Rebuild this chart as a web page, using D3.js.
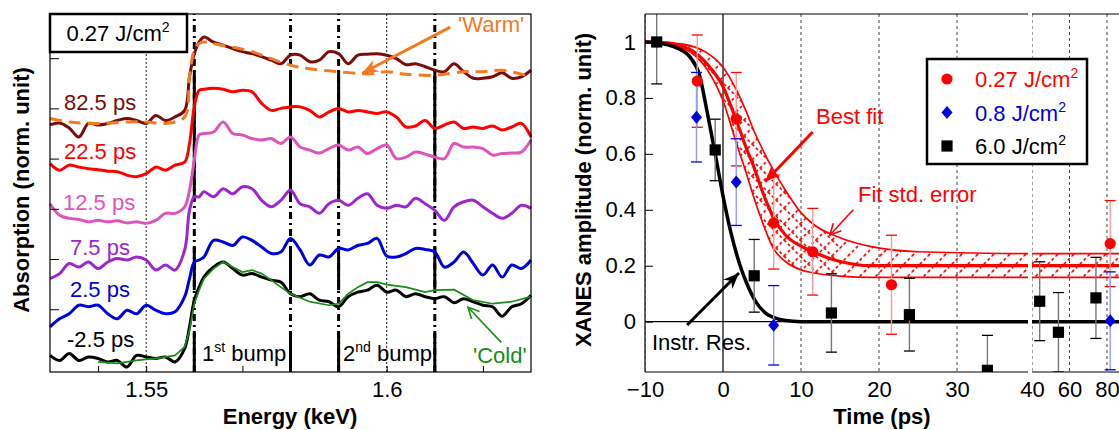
<!DOCTYPE html>
<html>
<head>
<meta charset="utf-8">
<script src="https://cdn.jsdelivr.net/npm/d3@7"></script>
<style>
  body { margin: 0; background: #fff; }
  text { font-family: "Liberation Sans", Arial, Helvetica, sans-serif; }
</style>
</head>
<body>
<div class="chart"></div>
<script>
//----Data: left panel (XANES spectra)----
const energy = [1.530,1.532,1.534,1.536,1.538,1.540,1.542,1.544,1.546,1.548,1.550,1.552,1.554,1.556,1.558,
  1.559,1.560,1.561,
  1.562,1.564,1.566,1.568,1.570,1.572,1.574,1.576,1.578,1.580,
  1.582,1.584,1.586,1.588,1.590,1.592,1.594,1.596,1.598,1.600,1.602,1.604,1.606,1.608,1.610,1.612,1.614,1.616,1.618,1.620,1.622,1.624,1.626,1.628,1.630];

const ps82 = [3.67,3.71,3.61,3.43,3.70,3.67,3.70,3.76,3.80,3.76,3.70,3.86,3.76,3.83,3.96,
  4.63,5.09,5.32,
  5.42,5.32,5.26,5.19,5.13,5.09,5.03,4.96,4.89,5.06,
  5.06,4.93,4.96,5.13,5.09,4.89,5.06,5.08,5.09,5.06,4.99,4.87,4.89,4.83,4.76,4.73,4.89,4.73,4.60,4.60,4.63,4.71,4.60,4.63,4.76];
const ps22 = [2.90,2.77,2.87,2.83,2.80,2.78,2.75,2.74,2.67,2.64,2.70,2.83,2.77,2.87,2.93,
  3.30,4.03,4.36,
  4.38,4.40,4.38,4.33,4.36,4.33,4.10,3.96,4.00,4.03,
  4.03,3.96,3.83,3.93,4.00,3.93,3.96,3.93,3.90,3.93,3.83,3.63,3.65,3.76,3.60,3.67,3.73,3.60,3.63,3.60,3.65,3.57,3.63,3.70,3.43];
const ps12 = [2.10,1.87,1.81,1.79,1.74,1.77,1.74,1.76,1.72,1.74,1.71,1.77,1.91,1.91,2.04,
  2.37,2.97,3.47,
  3.50,3.53,3.73,3.50,3.47,3.40,3.37,3.40,3.30,3.43,
  3.23,3.17,3.11,3.20,3.27,3.17,3.23,3.10,3.20,3.27,3.00,3.03,3.13,3.09,3.03,3.00,3.30,3.23,3.23,3.20,3.07,3.10,3.11,3.13,3.37];
const ps7 = [0.61,0.71,0.91,0.84,0.94,0.81,0.94,1.01,0.98,1.04,0.98,0.78,0.88,0.78,1.18,
  1.97,2.24,2.24,
  2.34,2.24,2.40,2.30,2.44,2.40,2.17,2.04,2.17,2.37,
  2.10,2.04,1.91,2.10,2.17,2.07,2.21,2.30,2.07,2.01,2.07,2.04,2.21,2.10,1.97,1.77,2.04,2.14,2.17,2.04,1.91,1.81,1.91,2.07,2.01];
const ps2 = [-0.35,-0.19,-0.09,0.08,0.05,0.08,-0.09,-0.19,-0.02,-0.09,0.08,-0.02,-0.09,-0.05,0.25,
  0.61,0.94,0.98,
  1.04,1.37,1.34,1.27,1.44,1.37,1.24,1.11,1.14,1.41,
  1.18,0.88,1.08,1.04,1.21,1.18,1.27,1.31,1.41,1.06,1.04,1.11,1.21,1.19,1.14,0.84,0.94,1.14,0.91,0.68,0.88,0.64,0.88,0.81,0.98];
const psm2 = [-0.92,-1.02,-0.88,-1.02,-0.95,-0.98,-1.05,-1.02,-1.15,-0.92,-0.95,-0.98,-0.95,-1.05,-0.78,
  -0.35,0.18,0.44,
  0.64,0.84,0.94,0.81,0.68,0.71,0.64,0.58,0.54,0.31,
  0.25,0.31,0.18,0.15,0.05,0.25,0.34,0.38,0.48,0.34,0.38,0.25,0.31,0.25,0.21,0.25,0.13,0.21,0.15,0.08,0.05,-0.14,0.05,0.11,0.28];

const energyWarm = [1.530,1.534,1.540,1.546,1.550,1.554,1.558,1.559,1.560,1.561,1.562,1.564,1.568,1.572,1.576,1.580,1.584,1.590,1.596,1.600,1.604,1.610,1.616,1.620,1.624,1.630];
const warm = [3.80,3.73,3.70,3.73,3.73,3.70,3.83,4.63,5.16,5.29,5.32,5.29,5.22,5.13,4.99,4.86,4.79,4.73,4.69,4.73,4.68,4.66,4.73,4.73,4.76,4.63];

const energyCold = [1.540,1.544,1.548,1.552,1.556,1.558,1.559,1.560,1.561,1.562,1.564,1.566,1.568,1.570,1.572,1.574,1.576,1.578,1.580,1.584,1.588,1.590,1.592,1.594,1.596,1.598,1.600,1.604,1.608,1.610,1.614,1.618,1.622,1.626,1.630];
const cold = [-1.05,-1.08,-1.02,-0.98,-0.92,-0.75,-0.42,0.11,0.38,0.61,0.81,0.94,0.84,0.74,0.78,0.71,0.58,0.44,0.31,0.15,0.08,0.11,0.31,0.44,0.54,0.54,0.49,0.44,0.34,0.38,0.39,0.18,0.11,0.15,0.25];

const spectra = [
  {label: "82.5 ps", color: "#7b0c0c", values: ps82},
  {label: "22.5 ps", color: "#ff0000", values: ps22},
  {label: "12.5 ps", color: "#dd55bb", values: ps12},
  {label: "7.5 ps",  color: "#9b27cf", values: ps7},
  {label: "2.5 ps",  color: "#0000dd", values: ps2},
  {label: "-2.5 ps", color: "#000000", values: psm2}
];

const markE = [1.56, 1.58, 1.59, 1.61];
const solidSpans = [[2.23, 4.76], [0.38, 1.24], [-1.25, -0.48]];
const gridE = [1.55, 1.6];
const minorE = [1.54, 1.55, 1.56, 1.57, 1.58, 1.59, 1.6, 1.61, 1.62];
const tickA = [0, 1, 2, 3, 4, 5];

//----Data: right panel (XANES amplitude vs time)----
const tRed = [-3.3, 1.7, 6.5, 11.5, 21.6, 81.7];
const vRed = [0.86, 0.724, 0.353, 0.25, 0.132, 0.279];
const eRed = [0.165, 0.167, 0.165, 0.155, 0.177, 0.154];

const tBlue = [-3.4, 1.7, 6.5, 81.7];
const vBlue = [0.731, 0.499, -0.013, 0.003];
const eBlue = [0.16, 0.155, 0.142, 0.175];

const tBlack = [-8.5, -1.0, 4.0, 13.9, 23.9, 33.9, 44.1, 54.1, 74.1];
const vBlack = [1.0, 0.614, 0.164, 0.031, 0.025, -0.174, 0.073, -0.038, 0.085];
const eBlack = [0.15, 0.11, 0.13, 0.14, 0.13, 0.125, 0.141, 0.142, 0.145];

const tFit   = [-10, -8, -6, -4, -2, 0, 1.7, 3, 4, 5, 6.5, 8, 10, 11.5, 15, 19, 25, 40];
const vBest  = [1, 0.998, 0.99, 0.97, 0.92, 0.84, 0.72, 0.62, 0.55, 0.47, 0.37, 0.31, 0.27, 0.25, 0.215, 0.2, 0.2, 0.2];
const vUpper = [1, 1, 0.995, 0.985, 0.96, 0.91, 0.83, 0.75, 0.68, 0.62, 0.54, 0.47, 0.39, 0.35, 0.30, 0.268, 0.25, 0.243];
const vLower = [1, 0.995, 0.985, 0.96, 0.9, 0.79, 0.64, 0.53, 0.44, 0.36, 0.26, 0.215, 0.185, 0.175, 0.163, 0.158, 0.158, 0.158];
const tFitFar = [40, 90];
const vBestFar = [0.2, 0.2], vUpperFar = [0.243, 0.243], vLowerFar = [0.158, 0.158];

const tIR = [-10, -8, -6, -4.2, -3, -2.1, -1, 0, 1, 2.2, 3, 4.3, 5.5, 6.4, 8, 10, 40];
const vIR = [1, 0.995, 0.98, 0.945, 0.88, 0.76, 0.6, 0.45, 0.32, 0.2, 0.14, 0.067, 0.03, 0.016, 0.004, 0, 0];
const tIRFar = [40, 90], vIRFar = [0, 0];

const tickV = [0, 0.2, 0.4, 0.6, 0.8, 1];
const tickT1 = [-10, 0, 10, 20, 30];
const tickT2 = [40, 60, 80];
const gridT1 = [-10, 10, 20, 30];
const gridT2 = [40, 60, 80];

const legend = [
  {label: "0.27 J/cm", color: "#ff0000", shape: "circle"},
  {label: "0.8 J/cm",  color: "#0000e0", shape: "diamond"},
  {label: "6.0 J/cm",  color: "#000000", shape: "square"}
];

const FS = 22;

//----Chart Initialization----
const svg = d3.select(".chart").append("svg")
  .attr("width", 1119)
  .attr("height", 430);

const defs = svg.append("defs");

function filledHead(id, color) {
  defs.append("marker").attr("id", id)
    .attr("viewBox", "-17 -8 18 16").attr("refX", 0).attr("refY", 0)
    .attr("markerWidth", 18).attr("markerHeight", 16)
    .attr("markerUnits", "userSpaceOnUse").attr("orient", "auto")
    .append("path").attr("d", "M0,0 L-16,-6.5 L-11,0 L-16,6.5 Z").attr("fill", color);
}
function openHead(id, color) {
  defs.append("marker").attr("id", id)
    .attr("viewBox", "-13 -7 14 14").attr("refX", 0).attr("refY", 0)
    .attr("markerWidth", 14).attr("markerHeight", 14)
    .attr("markerUnits", "userSpaceOnUse").attr("orient", "auto")
    .append("path").attr("d", "M-11,-5.5 L0,0 L-11,5.5")
    .attr("fill", "none").attr("stroke", color).attr("stroke-width", 1.6);
}
filledHead("hOrange", "#f47a1f");
filledHead("hRed", "#ff0000");
filledHead("hBlack", "#000");
openHead("oGreen", "#1a8c1a");
openHead("oRed", "#ff0000");

defs.append("pattern").attr("id", "hatchA")
  .attr("patternUnits", "userSpaceOnUse").attr("width", 16).attr("height", 16)
  .append("path").attr("d", "M-4,4 L4,-4 M0,16 L16,0 M12,20 L20,12")
  .attr("stroke", "#ff0000").attr("stroke-width", 1.6).attr("stroke-dasharray", "3,2.5");
defs.append("pattern").attr("id", "hatchB")
  .attr("patternUnits", "userSpaceOnUse").attr("width", 16).attr("height", 16)
  .append("path").attr("d", "M0,0 L16,16 M-4,12 L4,20 M12,-4 L20,4")
  .attr("stroke", "#ff0000").attr("stroke-width", 1.6).attr("stroke-dasharray", "3,2.5");

function sup(sel, main, s, after) {
  sel.append("tspan").text(main);
  sel.append("tspan").attr("dy", -9).attr("font-size", 14).text(s);
  if (after) sel.append("tspan").attr("dy", 9).text(after);
}

// ----Left panel----
const xE = d3.scaleLinear().domain([1.53, 1.63]).range([50, 531]);
const yA = d3.scaleLinear().domain([-1.25, 5.88]).range([372, 14]);

const left = svg.append("g");

left.selectAll(".gridE").data(gridE).enter().append("line")
  .attr("x1", d => xE(d)).attr("x2", d => xE(d))
  .attr("y1", yA(-1.25)).attr("y2", yA(5.88))
  .attr("stroke", "#000").attr("stroke-width", 0.9).attr("stroke-dasharray", "2,2");

left.selectAll(".markE").data(markE).enter().append("line")
  .attr("x1", d => xE(d)).attr("x2", d => xE(d))
  .attr("y1", yA(-1.25)).attr("y2", yA(5.88))
  .attr("stroke", "#000").attr("stroke-width", 3).attr("stroke-dasharray", "7,4,2,4");

markE.forEach(e => {
  left.selectAll(null).data(solidSpans).enter().append("line")
    .attr("x1", xE(e)).attr("x2", xE(e))
    .attr("y1", d => yA(d[0])).attr("y2", d => yA(d[1]))
    .attr("stroke", "#000").attr("stroke-width", 3);
});

const lineE = d3.line()
  .x((d, i) => xE(energy[i]))
  .y(d => yA(d))
  .curve(d3.curveCatmullRom.alpha(0.5));

left.selectAll(".spec").data(spectra).enter().append("path")
  .attr("d", d => lineE(d.values))
  .attr("fill", "none")
  .attr("stroke", d => d.color)
  .attr("stroke-width", 3)
  .attr("stroke-linejoin", "round");

left.append("path")
  .attr("d", d3.line().x((d, i) => xE(energyWarm[i])).y(d => yA(d)).curve(d3.curveCatmullRom)(warm))
  .attr("fill", "none").attr("stroke", "#f47a1f").attr("stroke-width", 3)
  .attr("stroke-dasharray", "12,7");

left.append("path")
  .attr("d", d3.line().x((d, i) => xE(energyCold[i])).y(d => yA(d))(cold))
  .attr("fill", "none").attr("stroke", "#1a8c1a").attr("stroke-width", 1.7);

left.selectAll(".lab").data(spectra).enter().append("text")
  .attr("x", (d, i) => [64, 64, 63, 70, 70, 67][i])
  .attr("y", (d, i) => [110, 159, 210, 255, 297, 347][i])
  .attr("fill", d => d.color)
  .attr("font-size", FS)
  .text(d => d.label);

// frame
left.append("rect")
  .attr("x", 50).attr("y", 14).attr("width", 481).attr("height", 358)
  .attr("fill", "none").attr("stroke", "#000").attr("stroke-width", 1.2);

// axes
const xAxisE = d3.axisBottom(xE)
  .tickValues(minorE)
  .tickSize(-6)
  .tickPadding(9)
  .tickFormat(d => gridE.some(g => Math.abs(g - d) < 1e-6) ? d3.format("")(d) : "");
left.append("g").attr("transform", "translate(0,372)").call(xAxisE)
  .call(g => g.select(".domain").remove())
  .call(g => g.selectAll("text").attr("font-size", FS).attr("font-family", "Liberation Sans, Arial, sans-serif").attr("fill", "#000"));

const yAxisA = d3.axisLeft(yA).tickValues(tickA).tickSize(-9).tickFormat("");
left.append("g").attr("transform", "translate(50,0)").call(yAxisA)
  .call(g => g.select(".domain").remove());

left.append("text")
  .attr("x", 290).attr("y", 424)
  .attr("text-anchor", "middle").attr("font-size", FS).attr("font-weight", "bold")
  .text("Energy (keV)");
left.append("text")
  .attr("transform", "translate(29,190) rotate(-90)")
  .attr("text-anchor", "middle").attr("font-size", FS).attr("font-weight", "bold")
  .text("Absorption (norm. unit)");

// fluence box
left.append("rect")
  .attr("x", 50).attr("y", 14).attr("width", 137).attr("height", 38)
  .attr("fill", "#fff").attr("stroke", "#000").attr("stroke-width", 2.5);
sup(left.append("text").attr("x", 118).attr("y", 41)
  .attr("text-anchor", "middle").attr("font-size", FS), "0.27 J/cm", "2");

// bump labels
sup(left.append("text").attr("x", 202).attr("y", 361).attr("font-size", FS), "1", "st", " bump");
sup(left.append("text").attr("x", 343).attr("y", 361).attr("font-size", FS), "2", "nd", " bump");

// warm / cold annotations
left.append("text").attr("x", 458).attr("y", 32).attr("font-size", FS)
  .attr("fill", "#f47a1f").text("'Warm'");
left.append("line")
  .attr("x1", xE(1.6132)).attr("y1", yA(5.62)).attr("x2", xE(1.5949)).attr("y2", yA(4.70))
  .attr("stroke", "#f47a1f").attr("stroke-width", 3).attr("marker-end", "url(#hOrange)");
left.append("text").attr("x", 473).attr("y", 363).attr("font-size", FS)
  .attr("fill", "#1a8c1a").text("'Cold'");
left.append("line")
  .attr("x1", xE(1.6238)).attr("y1", yA(-0.66)).attr("x2", xE(1.6169)).attr("y2", yA(0.04))
  .attr("stroke", "#1a8c1a").attr("stroke-width", 1.6).attr("marker-end", "url(#oGreen)");

// ----Right panel----
const xT1 = d3.scaleLinear().domain([-10, 40]).range([645, 1035]);
const xT2 = d3.scaleLinear().domain([40, 80]).range([1032, 1107]);
const xT = t => t > 40 ? xT2(t) : xT1(t);
const yX = d3.scaleLinear().domain([-0.18, 1.1]).range([372, 14]);

defs.append("clipPath").attr("id", "clip1").append("rect")
  .attr("x", 645).attr("y", 14).attr("width", 383).attr("height", 358);
defs.append("clipPath").attr("id", "clip2").append("rect")
  .attr("x", 1032).attr("y", 14).attr("width", 100).attr("height", 358);

const right = svg.append("g");
const seg1 = right.append("g").attr("clip-path", "url(#clip1)");
const seg2 = right.append("g").attr("clip-path", "url(#clip2)");

function grid(g, scale, vals) {
  g.selectAll(null).data(vals).enter().append("line")
    .attr("x1", d => scale(d)).attr("x2", d => scale(d))
    .attr("y1", 14).attr("y2", 372)
    .attr("stroke", "#444").attr("stroke-width", 1).attr("stroke-dasharray", "3,3");
}
grid(seg1, xT1, gridT1);
grid(seg2, xT2, gridT2);

// zero lines
seg1.append("line").attr("x1", 645).attr("x2", 1035).attr("y1", yX(0)).attr("y2", yX(0))
  .attr("stroke", "#000").attr("stroke-width", 1.2);
seg1.append("line").attr("x1", xT1(0)).attr("x2", xT1(0)).attr("y1", 14).attr("y2", 372)
  .attr("stroke", "#000").attr("stroke-width", 1.2);

// fit band
function band(g, scale, ts, up, lo, best, cross) {
  const area = d3.area().x((d, i) => scale(ts[i])).y0((d, i) => yX(lo[i])).y1(d => yX(d))
    .curve(d3.curveMonotoneX);
  g.append("path").attr("d", area(up)).attr("fill", "url(#hatchA)");
  if (cross) {
    const n = ts.filter(t => t <= 15).length;
    g.append("path").attr("d", area(up.slice(0, n))).attr("fill", "url(#hatchB)");
  }
  const ln = d3.line().x((d, i) => scale(ts[i])).y(d => yX(d)).curve(d3.curveMonotoneX);
  g.append("path").attr("d", ln(up)).attr("fill", "none").attr("stroke", "#ff0000").attr("stroke-width", 1.7);
  g.append("path").attr("d", ln(lo)).attr("fill", "none").attr("stroke", "#ff0000").attr("stroke-width", 1.7);
  g.append("path").attr("d", ln(best)).attr("fill", "none").attr("stroke", "#ff0000").attr("stroke-width", 3.2);
}
band(seg1, xT1, tFit, vUpper, vLower, vBest, true);
band(seg2, xT2, tFitFar, vUpperFar, vLowerFar, vBestFar, false);

const lineIR1 = d3.line().x((d, i) => xT1(tIR[i])).y(d => yX(d)).curve(d3.curveMonotoneX);
seg1.append("path").attr("d", lineIR1(vIR)).attr("fill", "none").attr("stroke", "#000").attr("stroke-width", 3.5);
const lineIR2 = d3.line().x((d, i) => xT2(tIRFar[i])).y(d => yX(d));
seg2.append("path").attr("d", lineIR2(vIRFar)).attr("fill", "none").attr("stroke", "#000").attr("stroke-width", 3.5);

// error bars + markers
const series = [
  {t: tBlack, v: vBlack, e: eBlack, color: "#000000", bar: "#777777", shape: "square"},
  {t: tRed,   v: vRed,   e: eRed,   color: "#ff0000", bar: "#ff9a9a", shape: "circle"},
  {t: tBlue,  v: vBlue,  e: eBlue,  color: "#0000e0", bar: "#9a9aff", shape: "diamond"}
];

function drawMarker(g, shape, color, cx, cy) {
  if (shape === "circle") {
    g.append("circle").attr("cx", cx).attr("cy", cy).attr("r", 5.6).attr("fill", color);
  } else if (shape === "square") {
    g.append("rect").attr("x", cx - 5.6).attr("y", cy - 5.6).attr("width", 11.2).attr("height", 11.2).attr("fill", color);
  } else {
    g.append("path").attr("transform", `translate(${cx},${cy})`)
      .attr("d", "M0,-6.5 L5.5,0 L0,6.5 L-5.5,0 Z").attr("fill", color);
  }
}

const pts1 = right.append("g").attr("clip-path", "url(#clip1)");
const pts2 = right.append("g").attr("clip-path", "url(#clip2)");

series.forEach(s => {
  s.t.forEach((t, i) => {
    const g = t > 40 ? pts2 : pts1;
    const cx = xT(t);
    g.append("line").attr("x1", cx).attr("x2", cx)
      .attr("y1", yX(s.v[i] + s.e[i])).attr("y2", yX(s.v[i] - s.e[i]))
      .attr("stroke", s.bar).attr("stroke-width", 1.4);
    [s.v[i] + s.e[i], s.v[i] - s.e[i]].forEach(c => {
      g.append("line").attr("x1", cx - 5.5).attr("x2", cx + 5.5)
        .attr("y1", yX(c)).attr("y2", yX(c))
        .attr("stroke", s.color).attr("stroke-width", 1.3);
    });
  });
});
series.forEach(s => {
  s.t.forEach((t, i) => {
    drawMarker(t > 40 ? pts2 : pts1, s.shape, s.color, xT(t), yX(s.v[i]));
  });
});

// frame (broken axis)
const fr = right.append("g").attr("stroke", "#000").attr("stroke-width", 1.2);
fr.append("line").attr("x1", 645).attr("x2", 1028).attr("y1", 14).attr("y2", 14);
fr.append("line").attr("x1", 645).attr("x2", 1028).attr("y1", 372).attr("y2", 372);
fr.append("line").attr("x1", 1032).attr("x2", 1119).attr("y1", 14).attr("y2", 14);
fr.append("line").attr("x1", 1032).attr("x2", 1119).attr("y1", 372).attr("y2", 372);
fr.append("line").attr("x1", 645).attr("x2", 645).attr("y1", 14).attr("y2", 372);

// axes
const yAxisX = d3.axisLeft(yX).tickValues(tickV).tickSize(-8).tickPadding(9).tickFormat(d3.format(""));
right.append("g").attr("transform", "translate(645,0)").call(yAxisX)
  .call(g => g.select(".domain").remove())
  .call(g => g.selectAll("text").attr("font-size", FS).attr("font-family", "Liberation Sans, Arial, sans-serif").attr("fill", "#000"));

const xAxisT1 = d3.axisBottom(xT1).tickValues(tickT1).tickSize(0).tickPadding(9).tickFormat(d3.format(""));
right.append("g").attr("transform", "translate(0,372)").call(xAxisT1)
  .call(g => g.select(".domain").remove())
  .call(g => g.selectAll("text").attr("font-size", FS).attr("font-family", "Liberation Sans, Arial, sans-serif").attr("fill", "#000"));
const xAxisT2 = d3.axisBottom(xT2).tickValues(tickT2).tickSize(0).tickPadding(9).tickFormat(d3.format(""));
right.append("g").attr("transform", "translate(0,372)").call(xAxisT2)
  .call(g => g.select(".domain").remove())
  .call(g => g.selectAll("text").attr("font-size", FS).attr("font-family", "Liberation Sans, Arial, sans-serif").attr("fill", "#000"));

right.append("text")
  .attr("x", 882).attr("y", 424)
  .attr("text-anchor", "middle").attr("font-size", FS).attr("font-weight", "bold")
  .text("Time (ps)");
right.append("text")
  .attr("transform", "translate(591,190) rotate(-90)")
  .attr("text-anchor", "middle").attr("font-size", FS).attr("font-weight", "bold")
  .text("XANES amplitude (norm. unit)");

// legend
const lg = right.append("g");
lg.append("rect").attr("x", 927).attr("y", 59).attr("width", 160).attr("height", 105)
  .attr("fill", "#fff").attr("stroke", "#000").attr("stroke-width", 2.5);
legend.forEach((d, i) => {
  const cy = 79 + i * 33.5;
  drawMarker(lg, d.shape, d.color, 947, cy);
  sup(lg.append("text").attr("x", 975).attr("y", cy + 8).attr("font-size", FS).attr("fill", d.color), d.label, "2");
});

// annotations
right.append("text").attr("x", 816).attr("y", 124).attr("font-size", FS).attr("fill", "#ff0000").text("Best fit");
right.append("line")
  .attr("x1", xT1(11.5)).attr("y1", yX(0.678)).attr("x2", xT1(5.4)).attr("y2", yX(0.5))
  .attr("stroke", "#ff0000").attr("stroke-width", 3).attr("marker-end", "url(#hRed)");
right.append("text").attr("x", 858).attr("y", 202).attr("font-size", FS).attr("fill", "#ff0000").text("Fit std. error");
right.append("line")
  .attr("x1", xT1(16.7)).attr("y1", yX(0.40)).attr("x2", xT1(13.7)).attr("y2", yX(0.31))
  .attr("stroke", "#ff0000").attr("stroke-width", 1.6).attr("marker-end", "url(#oRed)");
right.append("text").attr("x", 652).attr("y", 350).attr("font-size", FS).attr("fill", "#000").text("Instr. Res.");
right.append("line")
  .attr("x1", xT1(-4.6)).attr("y1", yX(-0.012)).attr("x2", xT1(2.05)).attr("y2", yX(0.174))
  .attr("stroke", "#000").attr("stroke-width", 3).attr("marker-end", "url(#hBlack)");
</script>
</body>
</html>
